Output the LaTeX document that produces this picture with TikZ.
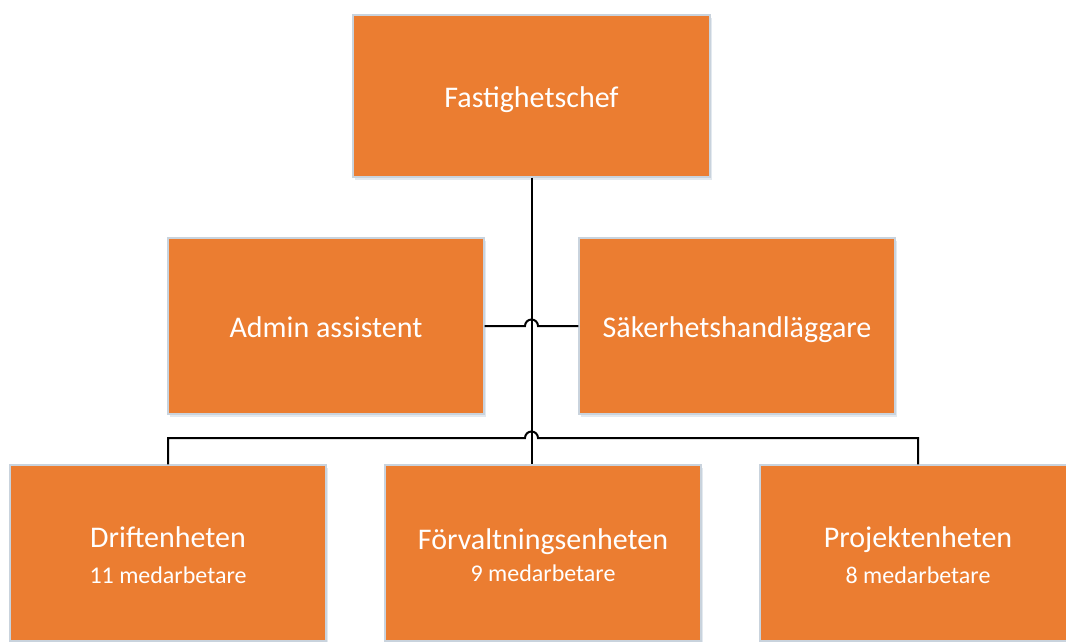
\documentclass[tikz,border=0pt]{standalone}
\usepackage{fontspec}
\setmainfont{Carlito}
\usetikzlibrary{shadows}
\definecolor{boxorange}{HTML}{EB7D31}
\definecolor{boxedge}{HTML}{C9D3DD}
\definecolor{shadowgray}{HTML}{AFC0D2}

\begin{document}
\begin{tikzpicture}[x=1pt,y=1pt,
  orgbox/.style={rectangle, draw=boxedge, line width=1.2pt, fill=boxorange,
    text=white, minimum width=316pt, minimum height=176pt, inner sep=0pt,
    align=center, font=\fontsize{30}{36}\selectfont,
    drop shadow={shadow xshift=2pt, shadow yshift=-3pt, fill=shadowgray, opacity=0.35}},
  oneline/.style={text height=27pt, text depth=5pt},
  link/.style={line width=2pt, black}]
\useasboundingbox (0,0) rectangle (1066,-641);

% boxes
\node[orgbox, oneline, minimum width=357pt, minimum height=162pt] (chef) at (531.5,-96) {Fastighetschef};
\node[orgbox, oneline] (admin) at (326,-326) {Admin assistent};
\node[orgbox, oneline] (sak) at (737,-326) {Säkerhetshandläggare};
\node[orgbox] (drift) at (168,-553) {\rule{0pt}{26pt}Driftenheten\\[0pt]{\fontsize{24}{29}\selectfont 11 medarbetare}};
\node[orgbox] (forv) at (543,-553) {\rule{0pt}{26pt}Förvaltningsenheten\\[-4pt]{\fontsize{24}{29}\selectfont 9 medarbetare}};
\node[orgbox] (proj) at (918,-553) {\rule{0pt}{26pt}Projektenheten\\[0pt]{\fontsize{24}{29}\selectfont 8 medarbetare}};

% connectors
\coordinate (bus) at (0,-438);
\draw[link] (chef.south) -- (chef.south |- forv.north);
\draw[link] (admin.east) -- ([xshift=-6.5pt]admin.east -| chef.south)
  arc[start angle=180, end angle=0, radius=6.5pt] -- (sak.west);
\draw[link] (drift.north) -- (drift.north |- bus)
  -- ([xshift=-6.5pt]bus -| chef.south)
  arc[start angle=180, end angle=0, radius=6.5pt]
  -- (proj.north |- bus) -- (proj.north);
\end{tikzpicture}
\end{document}
